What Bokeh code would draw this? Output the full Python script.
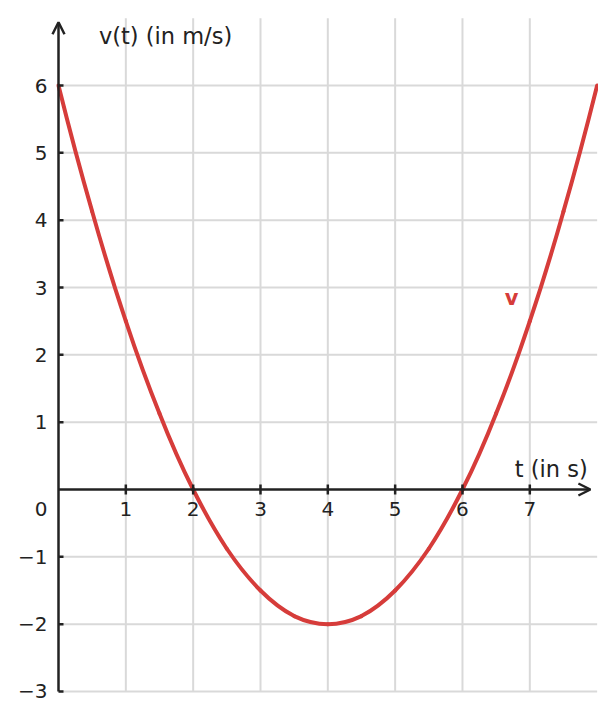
from bokeh.plotting import figure
from bokeh.models import Range1d, Arrow, OpenHead
from bokeh.core.properties import value
from bokeh.embed import file_html
from bokeh.resources import INLINE

# ---- data ----
t_vals = [0.0, 0.25, 0.5, 0.75, 1.0, 1.25, 1.5, 1.75, 2.0, 2.25, 2.5, 2.75, 3.0,
          3.25, 3.5, 3.75, 4.0, 4.25, 4.5, 4.75, 5.0, 5.25, 5.5, 5.75, 6.0,
          6.25, 6.5, 6.75, 7.0, 7.25, 7.5, 7.75, 8.0]
v_vals = [6.0, 5.03, 4.13, 3.28, 2.5, 1.78, 1.13, 0.53, 0.0, -0.47, -0.88, -1.22, -1.5,
          -1.72, -1.88, -1.97, -2.0, -1.97, -1.88, -1.72, -1.5, -1.22, -0.88, -0.47, 0.0,
          0.53, 1.13, 1.78, 2.5, 3.28, 4.13, 5.03, 6.0]
x_ticks = [1, 2, 3, 4, 5, 6, 7]
x_tick_labels = ["1", "2", "3", "4", "5", "6", "7"]
y_ticks = [-3, -2, -1, 1, 2, 3, 4, 5, 6]
y_tick_labels = ["\u22123", "\u22122", "\u22121", "1", "2", "3", "4", "5", "6"]
grid_x = [1, 2, 3, 4, 5, 6, 7]
grid_y = [-3, -2, -1, 1, 2, 3, 4, 5, 6]
x_min, x_max = 0, 8
y_min, y_max = -3, 7
x_label = "t (in s)"
y_label = "v(t) (in m/s)"
series_name = "v"

W, H = 598, 703
PX = 67.33  # pixels per unit
xr = Range1d(-58 / PX, (W - 58) / PX)
yr = Range1d((489 - H) / PX, 489 / PX)

FONT = value("DejaVu Sans")
AX = "#222222"
RED = "#d63c3a"
GRID = "#d9d9d9"

p = figure(width=W, height=H, x_range=xr, y_range=yr, x_axis_type=None, y_axis_type=None,
           output_backend="svg", toolbar_location=None, min_border=0)
p.grid.visible = False
p.outline_line_color = None
p.background_fill_color = "white"
p.border_fill_color = "white"

# grid
p.segment(x0=grid_x, x1=grid_x, y0=[y_min] * len(grid_x), y1=[y_max] * len(grid_x),
          line_color=GRID, line_width=2)
p.segment(x0=[x_min] * len(grid_y), x1=[x_max] * len(grid_y), y0=grid_y, y1=grid_y,
          line_color=GRID, line_width=2)

# curve: smooth quadratic pieces through consecutive triples of points
x0s, y0s, x1s, y1s, cxs, cys = [], [], [], [], [], []
for i in range(0, len(t_vals) - 2, 2):
    ta, tm, tb = t_vals[i], t_vals[i + 1], t_vals[i + 2]
    va, vm, vb = v_vals[i], v_vals[i + 1], v_vals[i + 2]
    x0s.append(ta); y0s.append(va); x1s.append(tb); y1s.append(vb)
    cxs.append(2 * tm - (ta + tb) / 2); cys.append(2 * vm - (va + vb) / 2)
p.quadratic(x0=x0s, y0=y0s, x1=x1s, y1=y1s, cx=cxs, cy=cys,
            line_color=RED, line_width=4, line_cap="round")

# axes
tick = 5 / PX
p.add_layout(Arrow(end=OpenHead(size=12, line_color=AX, line_width=2.5),
                   x_start=0, y_start=y_min, x_end=0, y_end=6.94,
                   line_color=AX, line_width=2.5))
p.add_layout(Arrow(end=OpenHead(size=12, line_color=AX, line_width=2.5),
                   x_start=0, y_start=0, x_end=7.9, y_end=0,
                   line_color=AX, line_width=2.5))
p.segment(x0=x_ticks, x1=x_ticks, y0=[-tick] * len(x_ticks), y1=[tick] * len(x_ticks),
          line_color=AX, line_width=2.5)
p.segment(x0=[0] * len(y_ticks), x1=[tick] * len(y_ticks), y0=y_ticks, y1=y_ticks,
          line_color=AX, line_width=2.5)

# tick labels
p.text(x=x_ticks, y=[0] * len(x_ticks), text=x_tick_labels, y_offset=19,
       text_align="center", text_baseline="middle", text_font=FONT,
       text_font_size="20px", text_color=AX)
p.text(x=[0] * len(y_ticks), y=y_ticks, text=y_tick_labels, x_offset=-11,
       text_align="right", text_baseline="middle", text_font=FONT,
       text_font_size="20px", text_color=AX)
p.text(x=[0], y=[0], text=["0"], x_offset=-11, y_offset=19,
       text_align="right", text_baseline="middle", text_font=FONT,
       text_font_size="20px", text_color=AX)

# axis labels
p.text(x=[0.6], y=[6.73], text=[y_label], text_align="left", text_baseline="middle",
       text_font=FONT, text_font_size="22.5px", text_color=AX)
p.text(x=[7.86], y=[0.31], text=[x_label], text_align="right", text_baseline="middle",
       text_font=FONT, text_font_size="22.5px", text_color=AX)

# series label
p.text(x=[6.73], y=[2.85], text=[series_name], text_align="center", text_baseline="middle",
       text_font=FONT, text_font_size="21px", text_font_style="bold", text_color=RED)

open("out.html", "w").write(file_html(p, INLINE))
